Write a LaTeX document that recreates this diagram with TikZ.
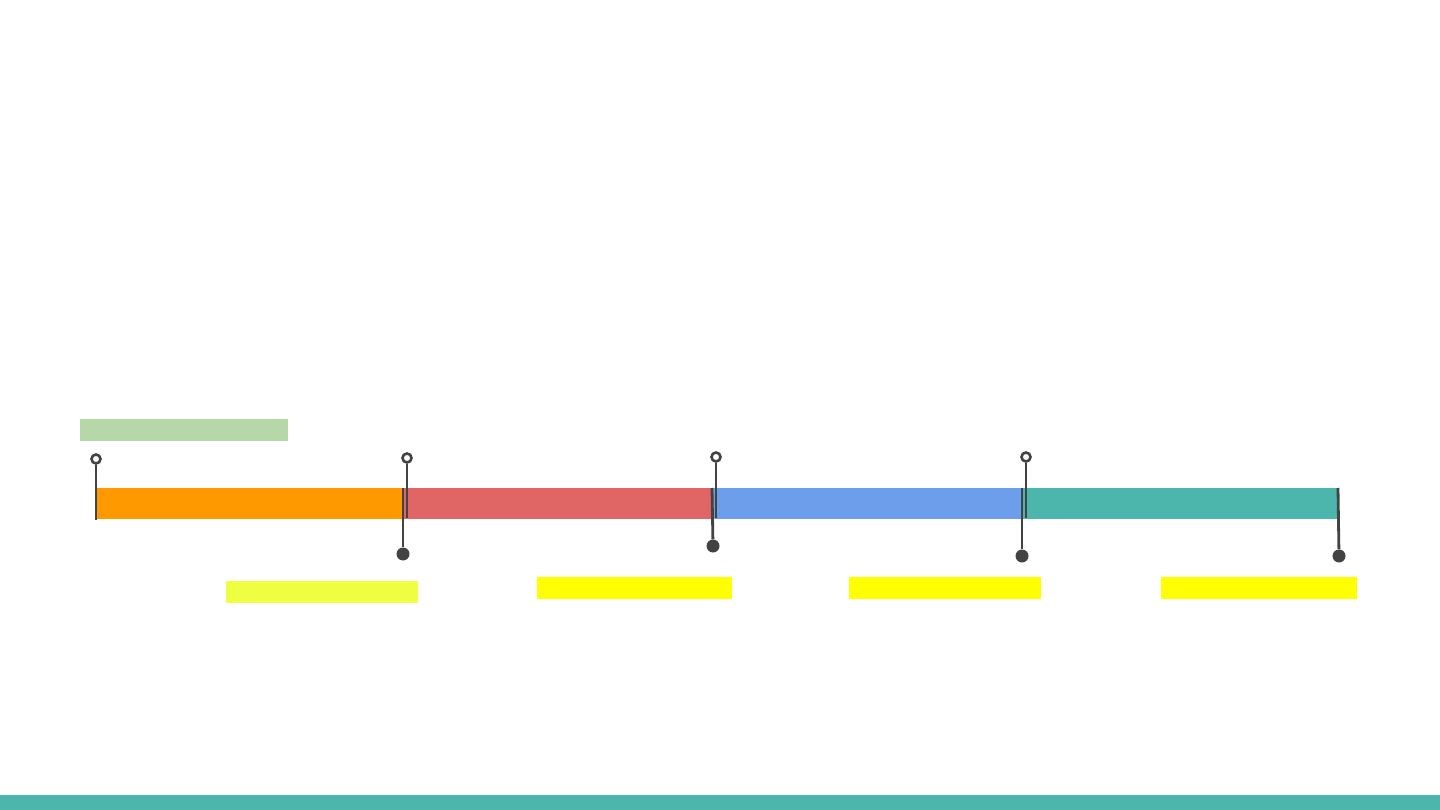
\documentclass[tikz,border=0pt]{standalone}
\usepackage{xcolor}
\usepackage{tikz}
\usetikzlibrary{positioning}

\definecolor{pinGray}{HTML}{434343}
\definecolor{phaseOrange}{HTML}{FF9900}
\definecolor{phaseRed}{HTML}{E06666}
\definecolor{phaseBlue}{HTML}{6D9EEB}
\definecolor{phaseTeal}{HTML}{4DB6AC}
\definecolor{noteGreen}{HTML}{B6D7A8}
\definecolor{noteLime}{HTML}{EEFF41}
\definecolor{noteYellow}{HTML}{FFFF00}

\begin{document}
\begin{tikzpicture}[
      x=1pt, y=-1pt,
      phase/.style={inner sep=0, outer sep=0, minimum height=31pt, anchor=west},
      note/.style={inner sep=0, outer sep=0, minimum height=22pt, anchor=west},
      openpin/.style={circle, draw=pinGray, fill=white, line width=2.6pt, inner sep=0, minimum size=9pt},
      dotpin/.style={circle, fill=pinGray, inner sep=0, minimum size=13pt},
      stem/.style={draw=pinGray, line width=2.8pt}
    ]
    \useasboundingbox (0,0) rectangle (1440,810);

    % phases of the timeline
    \node[phase, fill=phaseOrange, minimum width=307pt] (p1) at (96,503.5) {};
    \node[phase, fill=phaseRed, minimum width=309pt, right=0pt of p1] (p2) {};
    \node[phase, fill=phaseBlue, minimum width=310pt, right=0pt of p2] (p3) {};
    \node[phase, fill=phaseTeal, minimum width=316pt, right=0pt of p3] (p4) {};

    % empty labels
    \node[note, fill=noteGreen, minimum width=208pt] (top1) at (80,430) {};
    \node[note, fill=noteLime, minimum width=192pt] (low1) at (226,592) {};
    \node[note, fill=noteYellow, minimum width=195pt] (low2) at (537,588) {};
    \node[note, fill=noteYellow, minimum width=192pt] (low3) at (849,588) {};
    \node[note, fill=noteYellow, minimum width=196pt] (low4) at (1161,588) {};

    % start pins
    \node[openpin] (s1) at (96,459) {};
    \node[openpin] (s2) at (407,458) {};
    \node[openpin] (s3) at (716,457) {};
    \node[openpin] (s4) at (1026,457) {};
    \coordinate (s1e) at (96,520);
    \coordinate (s2e) at (407,518);
    \coordinate (s3e) at (716,518);
    \coordinate (s4e) at (1026,518);
    \draw[stem] (s1) -- (s1e);
    \draw[stem] (s2) -- (s2e);
    \draw[stem] (s3) -- (s3e);
    \draw[stem] (s4) -- (s4e);

    % end pins
    \node[dotpin] (e1) at (403,554) {};
    \node[dotpin] (e2) at (713,546) {};
    \node[dotpin] (e3) at (1022,556) {};
    \node[dotpin] (e4) at (1339,556) {};
    \coordinate (e1s) at (403,488);
    \coordinate (e2s) at (712,488);
    \coordinate (e3s) at (1022,488);
    \coordinate (e4s) at (1338,488);
    \draw[stem] (e1s) -- (e1);
    \draw[stem] (e2s) -- (e2);
    \draw[stem] (e3s) -- (e3);
    \draw[stem] (e4s) -- (e4);

    % footer bar
    \fill[phaseTeal] (0,795) rectangle (1440,810);
  \end{tikzpicture}
\end{document}
